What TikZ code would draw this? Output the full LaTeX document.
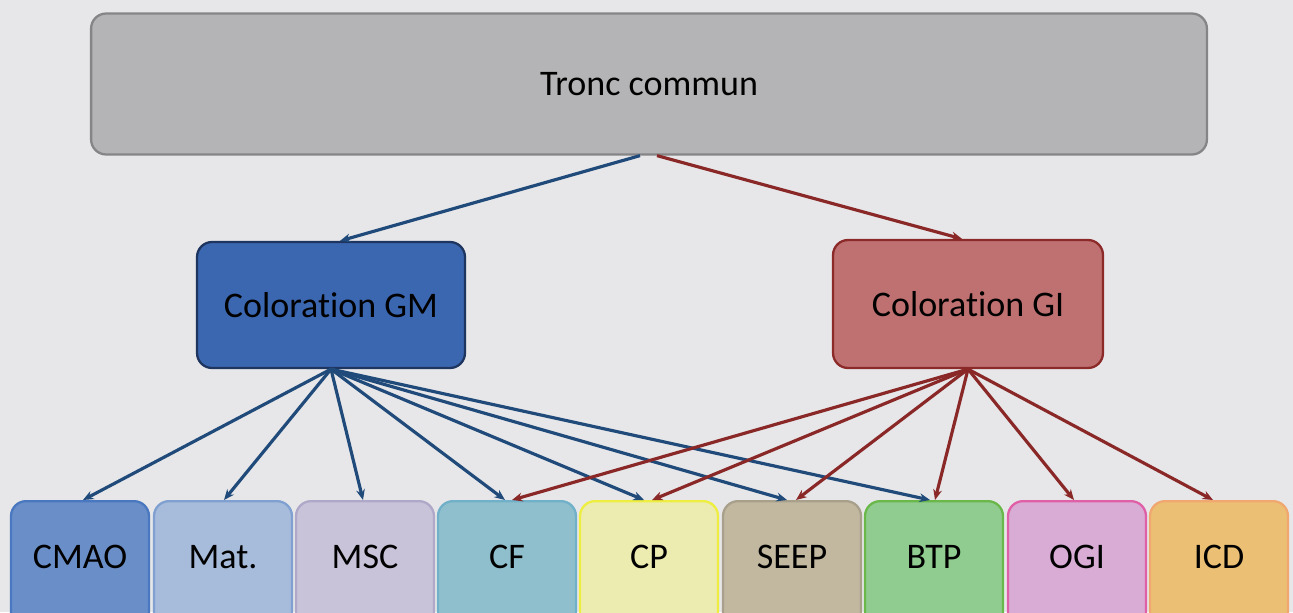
\documentclass[tikz,border=0pt]{standalone}
\usepackage{fontspec}
\setmainfont[Ligatures=NoCommon]{Carlito}
\usetikzlibrary{arrows.meta}
\definecolor{fond}{HTML}{E7E7E9}
\definecolor{troncfill}{HTML}{B4B4B6}
\definecolor{troncline}{HTML}{858587}
\definecolor{gmfill}{HTML}{3B67B1}
\definecolor{gmline}{HTML}{1E3560}
\definecolor{gifill}{HTML}{BF7070}
\definecolor{giline}{HTML}{8C2A2A}
\definecolor{linkgm}{HTML}{1F4A7A}
\definecolor{linkgi}{HTML}{8A2828}
\definecolor{cmaofill}{HTML}{6A8FC8}\definecolor{cmaoline}{HTML}{4A78C0}
\definecolor{matfill}{HTML}{A7BBDB}\definecolor{matline}{HTML}{7FA0D0}
\definecolor{mscfill}{HTML}{C9C3D9}\definecolor{mscline}{HTML}{B0A8C8}
\definecolor{cffill}{HTML}{8FBFCC}\definecolor{cfline}{HTML}{70B0C8}
\definecolor{cpfill}{HTML}{ECEBB0}\definecolor{cpline}{HTML}{EEEE40}
\definecolor{seepfill}{HTML}{C2B8A0}\definecolor{seepline}{HTML}{A8A08A}
\definecolor{btpfill}{HTML}{90CC90}\definecolor{btpline}{HTML}{6AB84A}
\definecolor{ogifill}{HTML}{D8ACD4}\definecolor{ogiline}{HTML}{E060A8}
\definecolor{icdfill}{HTML}{ECC074}\definecolor{icdline}{HTML}{F0A870}

\begin{document}
\begin{tikzpicture}[x=0.02cm,y=-0.02cm,
box/.style={draw,rounded corners=0.3cm,line width=1.3pt,text=black,
  font=\fontsize{20.5}{24}\selectfont},
leaf/.style={box,minimum width=2.76cm,minimum height=2.8cm,anchor=north,
  text height=13pt,text depth=16pt},
lgm/.style={draw=linkgm,line width=1.8pt,-{Stealth[length=6pt,width=5pt]}},
lgi/.style={draw=linkgi,line width=1.8pt,-{Stealth[length=6pt,width=5pt]}}]
\useasboundingbox (0,0) rectangle (1293,612);
\clip (0,0) rectangle (1293,612);
\fill[fond] (0,0) rectangle (1293,612);

\node[box,fill=troncfill,draw=troncline,minimum width=22.32cm,minimum height=2.82cm] (tronc) at (649,84) {Tronc commun};
\node[box,fill=gmfill,draw=gmline,minimum width=5.36cm,minimum height=2.52cm] (gm) at (331,305) {Coloration GM};
\node[box,fill=gifill,draw=giline,minimum width=5.4cm,minimum height=2.56cm] (gi) at (968,304) {Coloration GI};

\node[leaf,fill=cmaofill,draw=cmaoline] (cmao) at (80,500) {CMAO};
\node[leaf,fill=matfill,draw=matline] (mat) at (223,500) {Mat.};
\node[leaf,fill=mscfill,draw=mscline] (msc) at (365,500) {MSC};
\node[leaf,fill=cffill,draw=cfline] (cf) at (507,500) {CF};
\node[leaf,fill=cpfill,draw=cpline] (cp) at (649,500) {CP};
\node[leaf,fill=seepfill,draw=seepline] (seep) at (792,500) {SEEP};
\node[leaf,fill=btpfill,draw=btpline] (btp) at (934,500) {BTP};
\node[leaf,fill=ogifill,draw=ogiline] (ogi) at (1077,500) {OGI};
\node[leaf,fill=icdfill,draw=icdline] (icd) at (1219,500) {ICD};

\draw[lgm] ([xshift=-0.18cm]tronc.south) -- ([xshift=0.18cm]gm.north);
\draw[lgi] ([xshift=0.16cm]tronc.south) -- ([xshift=-0.12cm]gi.north);

\draw[lgm] (gm.south) -- ([xshift=0.06cm]cmao.north);
\draw[lgm] (gm.south) -- ([xshift=0.02cm]mat.north);
\draw[lgm] (gm.south) -- ([xshift=-0.04cm]msc.north);
\draw[lgm] (gm.south) -- ([xshift=-0.04cm]cf.north);
\draw[lgm] (gm.south) -- ([xshift=-0.1cm]cp.north);
\draw[lgm] (gm.south) -- ([xshift=-0.1cm]seep.north);
\draw[lgm] (gm.south) -- ([xshift=-0.08cm]btp.north);

\draw[lgi] (gi.south) -- ([xshift=0.1cm]cf.north);
\draw[lgi] (gi.south) -- ([xshift=0.06cm]cp.north);
\draw[lgi] (gi.south) -- ([xshift=0.08cm]seep.north);
\draw[lgi] (gi.south) -- ([xshift=0.02cm]btp.north);
\draw[lgi] (gi.south) -- ([xshift=-0.06cm]ogi.north);
\draw[lgi] (gi.south) -- ([xshift=-0.12cm]icd.north);
\end{tikzpicture}
\end{document}
